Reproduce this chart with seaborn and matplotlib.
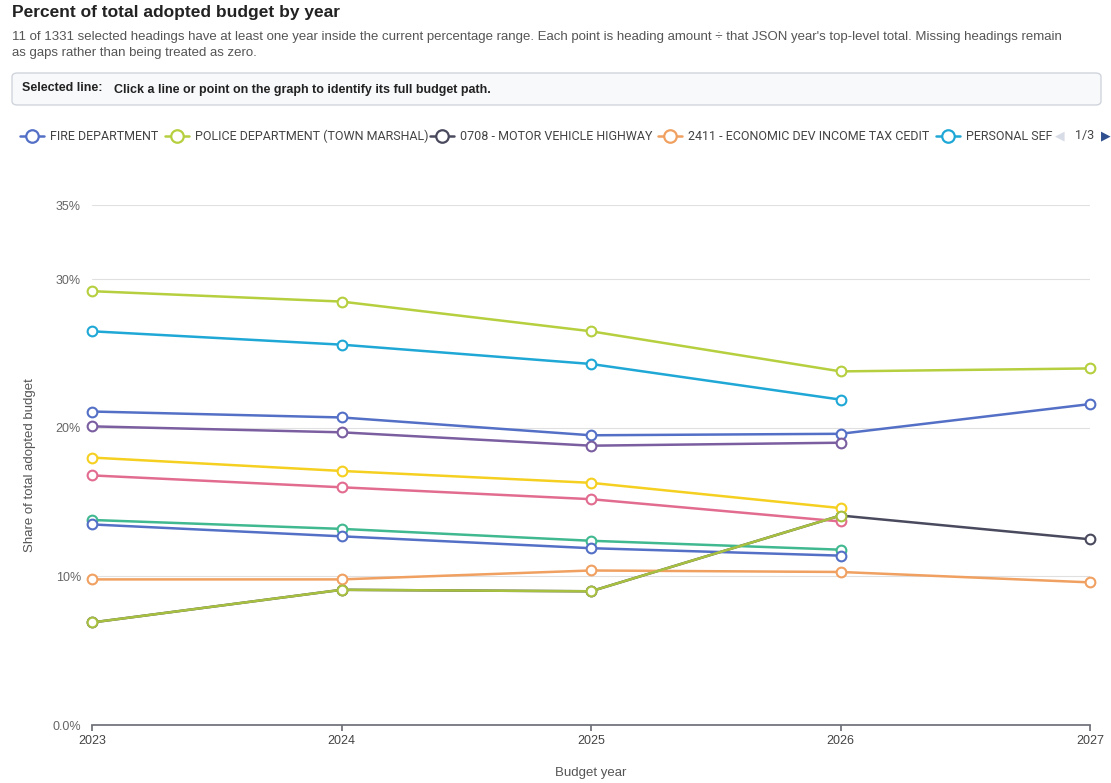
import matplotlib
matplotlib.use("Agg")
import matplotlib.pyplot as plt
import seaborn as sns
import pandas as pd
from matplotlib.patches import FancyBboxPatch
from matplotlib.lines import Line2D

years = [2023, 2024, 2025, 2026, 2027]
names = ["FIRE DEPARTMENT", "POLICE DEPARTMENT (TOWN MARSHAL)", "0708 - MOTOR VEHICLE HIGHWAY",
         "2411 - ECONOMIC DEV INCOME TAX CEDIT", "PERSONAL SERVICES", "S6", "S7", "S8", "S9", "S10", "S11"]
colors = ["#5470c6", "#b5cf3e", "#4a4a5e", "#f0a060", "#1fa8d6", "#7a5ea0", "#f5d020", "#e26c90",
          "#40b890", "#5470c6", "#a8c040"]
v_fire = [21.1, 20.7, 19.5, 19.6, 21.6]
v_police = [29.2, 28.5, 26.5, 23.8, 24.0]
v_0708 = [6.9, 9.1, 9.0, 14.1, 12.5]
v_2411 = [9.8, 9.8, 10.4, 10.3, 9.6]
v_personal = [26.5, 25.6, 24.3, 21.9, None]
v_s6 = [20.1, 19.7, 18.8, 19.0, None]
v_s7 = [18.0, 17.1, 16.3, 14.6, None]
v_s8 = [16.8, 16.0, 15.2, 13.7, None]
v_s9 = [13.8, 13.2, 12.4, 11.8, None]
v_s10 = [13.5, 12.7, 11.9, 11.4, None]
v_s11 = [6.9, 9.1, 9.0, 14.1, None]
values = [v_fire, v_police, v_0708, v_2411, v_personal, v_s6, v_s7, v_s8, v_s9, v_s10, v_s11]

rows = []
for n, vals in zip(names, values):
    for y, v in zip(years, vals):
        if v is not None:
            rows.append({"series": n, "year": y, "pct": v})
df = pd.DataFrame(rows)

sns.set_theme(style="white")
plt.rcParams['font.family'] = ['Liberation Sans', 'DejaVu Sans']
fig = plt.figure(figsize=(11.11, 7.83), dpi=100)
ax = fig.add_axes([92/1111, 58/783, 998/1111, 520/783])
sns.lineplot(data=df, x="year", y="pct", hue="series", hue_order=names, palette=colors,
             marker="o", markersize=7, markerfacecolor="white", markeredgewidth=1.5,
             linewidth=1.8, legend=False, ax=ax)
for line, c in zip(ax.get_lines(), colors):
    line.set_markeredgecolor(c)
    line.set_clip_on(False)
ax.set_xlim(2023, 2027)
ax.set_ylim(0, 35)
ax.set_yticks([0, 10, 20, 30, 35])
ax.set_yticklabels(["0.0%", "10%", "20%", "30%", "35%"], fontsize=9, color="#666666")
ax.set_xticks(years)
ax.set_xticklabels([str(y) for y in years], fontsize=9, color="#444444")
ax.yaxis.grid(True, color="#e0e0e0", linewidth=0.8)
for s in ["top", "right", "left"]:
    ax.spines[s].set_visible(False)
ax.spines["bottom"].set_color("#6e7079")
ax.tick_params(axis="x", length=4, color="#6e7079", bottom=True)
ax.tick_params(axis="y", length=0, pad=8)
ax.set_xlabel("Budget year", fontsize=9.5, color="#555555", labelpad=14)
ax.set_ylabel("Share of total adopted budget", fontsize=9.5, color="#555555", labelpad=12)

fig.text(12/1111, 1 - 12/783, "Percent of total adopted budget by year", fontsize=12.5,
         fontweight="bold", color="#222222", va="center")
fig.text(12/1111, 1 - 45/783,
         "11 of 1331 selected headings have at least one year inside the current percentage range. Each point is heading amount ÷ that JSON year's top-level total. Missing headings remain\nas gaps rather than being treated as zero.",
         fontsize=9.5, color="#555555", va="center", linespacing=1.5)
box = FancyBboxPatch((12/1111, 1 - 105/783), 1089/1111, 32/783, boxstyle="round,pad=0,rounding_size=0.005",
                     transform=fig.transFigure, facecolor="#f8f9fb", edgecolor="#d0d4dc", linewidth=1)
fig.patches.append(box)
fig.text(22/1111, 1 - 88/783, "Selected line:", fontsize=9, fontweight="bold", color="#222222", va="center")
fig.text(114/1111, 1 - 90/783, "Click a line or point on the graph to identify its full budget path.",
         fontsize=9, fontweight="bold", color="#222222", va="center")

# legend (first page)
lx = [20, 165, 430, 658, 936]
ly = 1 - 136/783
legfont = ['Liberation Sans Narrow', 'Roboto', 'DejaVu Sans']
for x0, n, c in zip(lx, names[:5], colors[:5]):
    fig.add_artist(Line2D([x0/1111, (x0+24)/1111], [ly, ly], color=c, linewidth=1.8,
                          transform=fig.transFigure))
    fig.add_artist(Line2D([(x0+12)/1111], [ly], color=c, marker="o", markersize=9,
                          markerfacecolor="white", markeredgewidth=1.6, transform=fig.transFigure))
    label = n if n != "PERSONAL SERVICES" else "PERSONAL SEF"
    fig.text((x0+30)/1111, ly, label, fontsize=9, color="#444444", va="center", family=legfont)
fig.text(1075/1111, ly, "1/3", fontsize=9, color="#444444", va="center", family=legfont)
fig.text(1055/1111, ly, "◀", fontsize=9, color="#d8dce6", va="center", family=['DejaVu Sans'])
fig.text(1101/1111, ly, "▶", fontsize=9, color="#2f4f8f", va="center", family=['DejaVu Sans'])

fig.savefig("out.png", dpi=100)
